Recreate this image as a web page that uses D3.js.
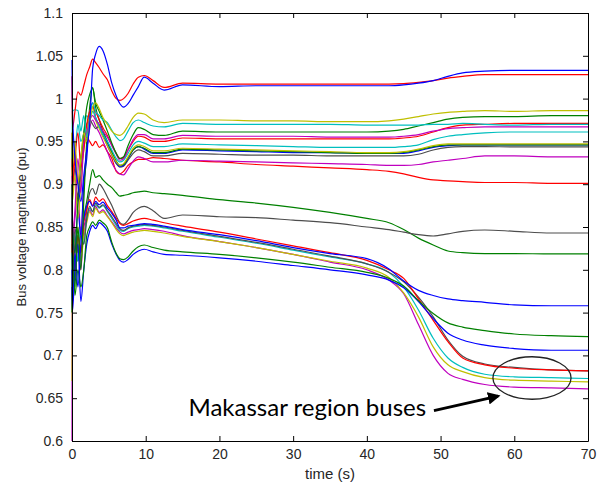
<!DOCTYPE html>
<html>
<head>
<meta charset="utf-8">
<script src="https://cdn.jsdelivr.net/npm/d3@7"></script>
<style>
  body { margin: 0; background: #fff; }
  svg { display: block; }
  .axis text { font-family: "Liberation Sans", Arial, sans-serif; font-size: 14px; fill: #262626; }
  .axis path, .axis line { stroke: #000; }
</style>
</head>
<body>
<div id="chart"></div>
<script>
// sample times (s) shared by every bus trace
var times = [0, 0.05, 0.4, 0.8, 1.2, 1.6, 2.0, 2.4, 2.8, 3.2, 3.7, 4.2, 4.8, 5.4, 6.0, 6.5, 7.0, 7.6, 8.3, 9.0,
             9.8, 11, 12.5, 15, 20, 25, 30, 35, 40,
             43, 45, 47, 49, 51, 53, 56, 60, 65, 70];

// bus voltage magnitudes (pu), one array per bus
var blueTop = [1.045, 0.99, 0.93, 0.90, 0.88, 0.91, 0.94, 0.97, 1.035, 1.052, 1.061, 1.056, 1.040, 1.018, 1.003, 0.994, 0.990, 0.994, 1.004, 1.014,
               1.025, 1.018, 1.010, 1.016, 1.014, 1.015, 1.015, 1.015, 1.015,
               1.015, 1.016, 1.018, 1.021, 1.026, 1.030, 1.032, 1.033, 1.033, 1.033];
var redTop = [1.026, 0.965, 0.985, 1.008, 1.004, 1.015, 1.028, 1.037, 1.046, 1.042, 1.036, 1.029, 1.022, 1.009, 1.000, 0.998, 1.000, 1.006, 1.017, 1.025,
              1.027, 1.021, 1.013, 1.018, 1.017, 1.017, 1.017, 1.017, 1.017,
              1.017, 1.0175, 1.019, 1.021, 1.024, 1.026, 1.028, 1.028, 1.028, 1.028];

var yellowB1 = [0.96, 0.92, 0.95, 0.90, 0.93, 0.96, 0.95, 0.97, 0.99, 0.995, 0.988, 0.978, 0.970, 0.962, 0.958, 0.957, 0.960, 0.968, 0.978, 0.983,
                0.982, 0.975, 0.972, 0.975, 0.975, 0.974, 0.974, 0.973, 0.973,
                0.974, 0.976, 0.979, 0.982, 0.984, 0.985, 0.986, 0.985, 0.986, 0.986];
var cyanB1 = [0.93, 0.985, 0.987, 0.986, 0.962, 0.98, 0.955, 0.975, 0.995, 0.985, 0.980, 0.975, 0.972, 0.963, 0.955, 0.951, 0.953, 0.962, 0.972, 0.975,
              0.972, 0.968, 0.967, 0.971, 0.970, 0.970, 0.970, 0.970, 0.969,
              0.969, 0.969, 0.969, 0.970, 0.970, 0.971, 0.970, 0.969, 0.970, 0.970];
var greenB1 = [0.90, 0.86, 0.82, 0.88, 0.93, 0.96, 0.99, 1.005, 1.012, 0.995, 0.985, 0.975, 0.962, 0.948, 0.936, 0.930, 0.932, 0.945, 0.958, 0.966,
               0.964, 0.958, 0.957, 0.962, 0.961, 0.961, 0.961, 0.961, 0.961,
               0.962, 0.964, 0.968, 0.972, 0.976, 0.978, 0.979, 0.979, 0.980, 0.980];
var magentaB1 = [0.91, 0.84, 0.87, 0.93, 0.89, 0.95, 0.96, 0.975, 0.98, 0.975, 0.970, 0.962, 0.955, 0.945, 0.935, 0.928, 0.930, 0.940, 0.952, 0.958,
                 0.958, 0.953, 0.953, 0.957, 0.956, 0.956, 0.956, 0.955, 0.955,
                 0.955, 0.956, 0.958, 0.962, 0.965, 0.966, 0.967, 0.967, 0.967, 0.967];
var redB1 = [0.95, 0.90, 0.93, 0.96, 0.92, 0.94, 0.97, 0.985, 0.99, 0.985, 0.975, 0.966, 0.957, 0.946, 0.936, 0.930, 0.931, 0.940, 0.950, 0.956,
             0.955, 0.950, 0.950, 0.954, 0.953, 0.953, 0.953, 0.953, 0.953,
             0.953, 0.954, 0.956, 0.961, 0.966, 0.969, 0.970, 0.971, 0.971, 0.971];
var cyanB2 = [0.92, 0.96, 0.94, 0.97, 0.95, 0.96, 0.98, 0.975, 0.985, 0.978, 0.968, 0.958, 0.950, 0.940, 0.930, 0.926, 0.928, 0.936, 0.946, 0.950,
              0.948, 0.944, 0.944, 0.947, 0.946, 0.945, 0.944, 0.943, 0.943,
              0.943, 0.944, 0.946, 0.952, 0.956, 0.958, 0.960, 0.961, 0.961, 0.961];
var yellowB2 = [0.94, 0.88, 0.91, 0.86, 0.90, 0.94, 0.96, 0.985, 0.99, 0.975, 0.965, 0.955, 0.945, 0.935, 0.926, 0.922, 0.924, 0.932, 0.942, 0.946,
                0.944, 0.939, 0.939, 0.942, 0.941, 0.940, 0.939, 0.938, 0.937,
                0.937, 0.938, 0.941, 0.945, 0.947, 0.947, 0.947, 0.947, 0.947, 0.947];
var greenB2 = [0.89, 0.82, 0.78, 0.85, 0.80, 0.88, 0.95, 0.99, 1.013, 0.99, 0.975, 0.962, 0.950, 0.938, 0.927, 0.922, 0.923, 0.931, 0.940, 0.944,
               0.942, 0.937, 0.937, 0.941, 0.940, 0.939, 0.938, 0.937, 0.936,
               0.936, 0.937, 0.940, 0.944, 0.946, 0.946, 0.946, 0.946, 0.946, 0.946];
var blueB2 = [0.90, 0.85, 0.82, 0.87, 0.84, 0.90, 0.93, 0.98, 0.995, 0.978, 0.968, 0.958, 0.948, 0.936, 0.925, 0.921, 0.922, 0.930, 0.940, 0.944,
              0.941, 0.936, 0.936, 0.940, 0.939, 0.938, 0.937, 0.937, 0.936,
              0.936, 0.936, 0.939, 0.943, 0.945, 0.946, 0.946, 0.946, 0.946, 0.946];
var grayB = [0.93, 0.89, 0.92, 0.88, 0.91, 0.95, 0.97, 0.975, 0.97, 0.965, 0.968, 0.958, 0.945, 0.934, 0.924, 0.920, 0.921, 0.928, 0.936, 0.940,
             0.938, 0.933, 0.933, 0.936, 0.935, 0.934, 0.934, 0.933, 0.933,
             0.933, 0.933, 0.935, 0.940, 0.943, 0.944, 0.944, 0.9435, 0.9435, 0.9435];
var magentaB2 = [0.88, 0.83, 0.86, 0.89, 0.84, 0.90, 0.94, 0.965, 0.975, 0.968, 0.960, 0.950, 0.938, 0.925, 0.916, 0.912, 0.911, 0.918, 0.927, 0.932,
                 0.930, 0.926, 0.926, 0.928, 0.927, 0.926, 0.925, 0.924, 0.923,
                 0.922, 0.922, 0.923, 0.926, 0.928, 0.930, 0.933, 0.933, 0.932, 0.932];
var redB2 = [0.96, 0.91, 0.94, 0.90, 0.93, 0.95, 0.955, 0.950, 0.945, 0.950, 0.943, 0.946, 0.938, 0.930, 0.915, 0.912, 0.915, 0.922, 0.926, 0.929,
             0.929, 0.931, 0.930, 0.928, 0.926, 0.923, 0.921, 0.919, 0.917,
             0.915, 0.912, 0.908, 0.905, 0.904, 0.903, 0.902, 0.902, 0.901, 0.901];

var greenC = [0.86, 0.82, 0.80, 0.84, 0.82, 0.86, 0.88, 0.90, 0.917, 0.908, 0.91, 0.905, 0.900, 0.896, 0.890, 0.886, 0.887, 0.888, 0.890, 0.891,
              0.892, 0.890, 0.889, 0.887, 0.882, 0.878, 0.873, 0.867, 0.860,
              0.855, 0.847, 0.837, 0.829, 0.822, 0.820, 0.819, 0.819, 0.8185, 0.8185];
var grayC = [0.85, 0.80, 0.83, 0.81, 0.85, 0.84, 0.87, 0.89, 0.895, 0.888, 0.90, 0.895, 0.885, 0.875, 0.863, 0.855, 0.853, 0.858, 0.867, 0.872,
             0.874, 0.869, 0.860, 0.864, 0.862, 0.861, 0.858, 0.855, 0.850,
             0.847, 0.844, 0.841, 0.8395, 0.842, 0.845, 0.8465, 0.845, 0.843, 0.843];

var blueA = [0.80, 0.76, 0.82, 0.78, 0.83, 0.86, 0.875, 0.880, 0.874, 0.880, 0.876, 0.879, 0.872, 0.866, 0.858, 0.849, 0.849, 0.851, 0.852, 0.853,
             0.854, 0.853, 0.851, 0.847, 0.841, 0.834, 0.826, 0.819, 0.813,
             0.801, 0.787, 0.776, 0.770, 0.766, 0.764, 0.762, 0.759, 0.758, 0.758];
var greenD = [0.75, 0.83, 0.77, 0.80, 0.78, 0.80, 0.84, 0.85, 0.856, 0.852, 0.858, 0.855, 0.849, 0.832, 0.819, 0.813, 0.812, 0.815, 0.822, 0.827,
              0.829, 0.826, 0.823, 0.821, 0.818, 0.814, 0.809, 0.803, 0.797,
              0.790, 0.781, 0.764, 0.749, 0.738, 0.733, 0.729, 0.725, 0.723, 0.722];
var blueD = [0.78, 0.751, 0.80, 0.83, 0.763, 0.80, 0.83, 0.845, 0.852, 0.848, 0.855, 0.852, 0.845, 0.83, 0.818, 0.811, 0.809, 0.812, 0.818, 0.822,
             0.824, 0.821, 0.818, 0.817, 0.814, 0.810, 0.805, 0.800, 0.794,
             0.788, 0.779, 0.763, 0.743, 0.726, 0.718, 0.712, 0.708, 0.706, 0.706];
var redD = [0.82, 0.86, 0.80, 0.84, 0.82, 0.855, 0.87, 0.882, 0.875, 0.885, 0.88, 0.883, 0.875, 0.868, 0.86, 0.854, 0.852, 0.854, 0.857, 0.859,
            0.860, 0.858, 0.855, 0.851, 0.844, 0.836, 0.828, 0.820, 0.811,
            0.800, 0.790, 0.766, 0.741, 0.716, 0.697, 0.689, 0.685, 0.683, 0.682];
var grayD = [0.83, 0.79, 0.85, 0.82, 0.84, 0.83, 0.86, 0.874, 0.868, 0.878, 0.873, 0.876, 0.869, 0.862, 0.854, 0.848, 0.846, 0.849, 0.851, 0.852,
             0.853, 0.852, 0.850, 0.846, 0.839, 0.832, 0.824, 0.816, 0.807,
             0.797, 0.786, 0.768, 0.745, 0.718, 0.699, 0.690, 0.686, 0.683, 0.682];
var cyanD = [0.83, 0.79, 0.84, 0.81, 0.85, 0.83, 0.86, 0.872, 0.868, 0.876, 0.872, 0.875, 0.868, 0.86, 0.852, 0.846, 0.845, 0.848, 0.85, 0.851,
             0.852, 0.851, 0.849, 0.845, 0.838, 0.831, 0.823, 0.815, 0.807,
             0.797, 0.780, 0.753, 0.720, 0.697, 0.686, 0.678, 0.675, 0.674, 0.673];
var yellowD = [0.67, 0.80, 0.82, 0.85, 0.81, 0.84, 0.855, 0.868, 0.862, 0.872, 0.866, 0.868, 0.862, 0.855, 0.847, 0.842, 0.840, 0.842, 0.844, 0.845,
               0.846, 0.845, 0.843, 0.839, 0.833, 0.826, 0.818, 0.810, 0.802,
               0.791, 0.773, 0.745, 0.710, 0.689, 0.681, 0.674, 0.671, 0.670, 0.669];
var magentaD = [0.60, 0.85, 0.79, 0.83, 0.80, 0.85, 0.86, 0.87, 0.864, 0.874, 0.867, 0.87, 0.863, 0.856, 0.849, 0.844, 0.842, 0.844, 0.846, 0.847,
                0.848, 0.847, 0.845, 0.840, 0.833, 0.826, 0.818, 0.809, 0.800,
                0.788, 0.772, 0.736, 0.700, 0.679, 0.672, 0.666, 0.663, 0.662, 0.661];

// axis ticks
var xTicks = [0, 10, 20, 30, 40, 50, 60, 70];
var yTicks = [0.6, 0.65, 0.7, 0.75, 0.8, 0.85, 0.9, 0.95, 1, 1.05, 1.1];
var yTickLabels = ["0.6", "0.65", "0.7", "0.75", "0.8", "0.85", "0.9", "0.95", "1", "1.05", "1.1"];

// MATLAB style colour cycle
var colors = { b: "#0000ff", g: "#008000", r: "#ff0000", c: "#00bfbf", m: "#bf00bf", y: "#bfbf00", k: "#4d4d4d" };

var series = [
    { values: greenC, color: colors.g },
    { values: grayC, color: colors.k },
    { values: magentaD, color: colors.m },
    { values: yellowD, color: colors.y },
    { values: cyanD, color: colors.c },
    { values: grayD, color: colors.k },
    { values: redD, color: colors.r },
    { values: blueD, color: colors.b },
    { values: greenD, color: colors.g },
    { values: blueA, color: colors.b },
    { values: redB2, color: colors.r },
    { values: magentaB2, color: colors.m },
    { values: grayB, color: colors.k },
    { values: blueB2, color: colors.b },
    { values: greenB2, color: colors.g },
    { values: yellowB2, color: colors.y },
    { values: cyanB2, color: colors.c },
    { values: redB1, color: colors.r },
    { values: magentaB1, color: colors.m },
    { values: greenB1, color: colors.g },
    { values: cyanB1, color: colors.c },
    { values: yellowB1, color: colors.y },
    { values: redTop, color: colors.r },
    { values: blueTop, color: colors.b }
];

var margin = { top: 13, right: 12, bottom: 44, left: 72 };
var width = 600 - margin.left - margin.right;
var height = 485 - margin.top - margin.bottom;

var svg = d3.select("#chart").append("svg")
    .attr("width", 600)
    .attr("height", 485);

var g = svg.append("g")
    .attr("transform", "translate(" + margin.left + "," + margin.top + ")");

var x = d3.scaleLinear().domain([0, 70]).range([0, width]);
var y = d3.scaleLinear().domain([0.6, 1.1]).range([height, 0]);

// bus traces
var line = d3.line()
    .x((d, i) => x(times[i]))
    .y(d => y(d))
    .curve(d3.curveMonotoneX);

g.selectAll(".bus")
    .data(series)
    .enter().append("path")
    .attr("class", "bus")
    .attr("fill", "none")
    .attr("stroke", d => d.color)
    .attr("stroke-width", 1.2)
    .attr("stroke-linejoin", "round")
    .attr("d", d => line(d.values));

// axes box with inward ticks
g.append("g")
    .attr("class", "axis")
    .attr("transform", "translate(0," + height + ")")
    .call(d3.axisBottom(x).tickValues(xTicks).tickSizeInner(-5).tickSizeOuter(0).tickPadding(8));
g.append("g")
    .attr("class", "axis")
    .call(d3.axisLeft(y).tickValues(yTicks)
        .tickFormat(d => yTickLabels[yTicks.indexOf(d)])
        .tickSizeInner(-5).tickSizeOuter(0).tickPadding(9));
g.append("g")
    .attr("class", "axis")
    .call(d3.axisTop(x).tickValues(xTicks).tickFormat("").tickSizeInner(-5).tickSizeOuter(0));
g.append("g")
    .attr("class", "axis")
    .attr("transform", "translate(" + width + ",0)")
    .call(d3.axisRight(y).tickValues(yTicks).tickFormat("").tickSizeInner(-5).tickSizeOuter(0));

// axis labels
svg.append("text")
    .attr("x", margin.left + width / 2)
    .attr("y", 479)
    .attr("text-anchor", "middle")
    .style("font-family", "Liberation Sans, Arial, sans-serif")
    .style("font-size", "15px")
    .style("fill", "#262626")
    .text("time (s)");

svg.append("text")
    .attr("transform", "rotate(-90)")
    .attr("x", -(margin.top + height / 2))
    .attr("y", 26)
    .attr("text-anchor", "middle")
    .style("font-family", "Liberation Sans, Arial, sans-serif")
    .style("font-size", "13px")
    .style("fill", "#262626")
    .text("Bus voltage magnitude (pu)");

// annotation: ellipse round the Makassar buses, arrow and caption
g.append("ellipse")
    .attr("cx", x(62.4))
    .attr("cy", y(0.6736))
    .attr("rx", x(5.3) - x(0))
    .attr("ry", y(0.6) - y(0.6248))
    .attr("fill", "none")
    .attr("stroke", "#222")
    .attr("stroke-width", 1.3);

svg.append("defs").append("marker")
    .attr("id", "arrowHead")
    .attr("viewBox", "0 0 10 10")
    .attr("refX", 8)
    .attr("refY", 5)
    .attr("markerWidth", 4.5)
    .attr("markerHeight", 4.5)
    .attr("orient", "auto")
    .append("path")
    .attr("d", "M0,0L10,5L0,10z")
    .attr("fill", "#000");

g.append("line")
    .attr("x1", x(49.1))
    .attr("y1", y(0.6356))
    .attr("x2", x(57.8))
    .attr("y2", y(0.6525))
    .attr("stroke", "#000")
    .attr("stroke-width", 2.8)
    .attr("marker-end", "url(#arrowHead)");

g.append("text")
    .attr("x", x(15.8))
    .attr("y", y(0.6292))
    .style("font-family", "Lato, 'Open Sans', sans-serif")
    .style("font-size", "24px")
    .style("fill", "#000")
    .text("Makassar region buses");
</script>
</body>
</html>
